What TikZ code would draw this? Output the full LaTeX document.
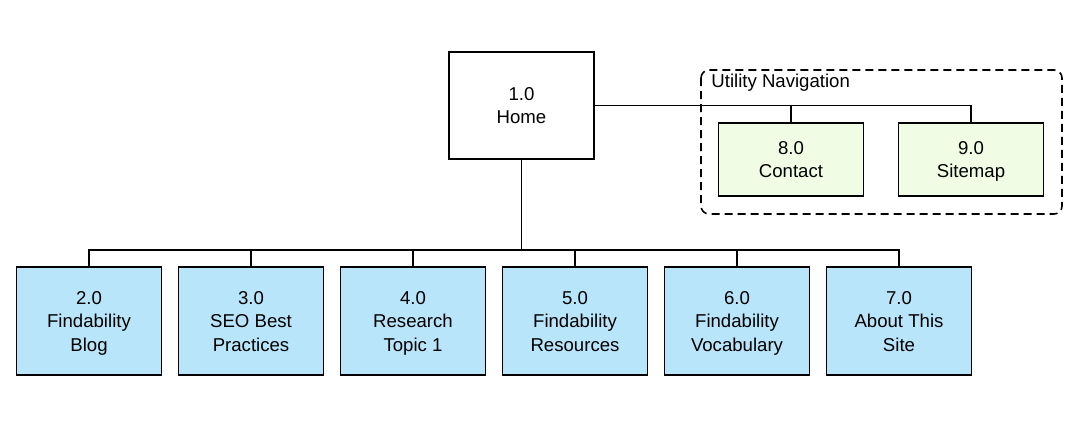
\documentclass[tikz,border=0pt]{standalone}
\usepackage{fontspec}
\setmainfont{Liberation Sans}
\usetikzlibrary{calc}
\definecolor{PageClr}{rgb}{0.72,0.90,0.98}
\definecolor{UtilClr}{rgb}{0.94,0.99,0.89}

\begin{document}
\begin{tikzpicture}[x=0.5pt,y=-0.5pt,
  font=\fontsize{9.3}{11.75}\selectfont,
  page/.style={draw,line width=0.8pt,align=center,inner sep=0pt,
    minimum width=72.5pt,minimum height=54pt,fill=PageClr,
    execute at begin node=\strut,execute at end node=\strut,
    text depth=0pt},
  util/.style={page,fill=UtilClr,minimum height=36.5pt},
  link/.style={line width=0.8pt}]
\useasboundingbox (0,0) rectangle (1079,424);

\node[page,fill=white,minimum height=53.5pt] (home) at (521.5,105.5) {1.0\\Home};

\draw[line width=0.8pt,dash pattern=on 4pt off 2.5pt,rounded corners=4pt]
  (701,70) rectangle (1062,214);
\node[anchor=west,inner sep=0pt] (utl) at (711,82.5) {Utility Navigation};

\node[util] (contact) at (791,159.5) {8.0\\Contact};
\node[util] (sitemap) at (971,159.5) {9.0\\Sitemap};

\node[page] (b2) at (89,321) {2.0\\Findability\\Blog};
\node[page] (b3) at (251,321) {3.0\\SEO Best\\Practices};
\node[page] (b4) at (413,321) {4.0\\Research\\Topic 1};
\node[page] (b5) at (575,321) {5.0\\Findability\\Resources};
\node[page] (b6) at (737,321) {6.0\\Findability\\Vocabulary};
\node[page] (b7) at (899,321) {7.0\\About This\\Site};

\coordinate (bus) at ($(home.south)+(0,90)$);
\draw[link] (home.south) -- (bus);
\foreach \i in {2,...,7}
  \draw[link] (bus) -| (b\i.north);

\draw[link] (home.east) -| (sitemap.north);
\draw[link] (home.east) -| (contact.north);

\end{tikzpicture}
\end{document}
